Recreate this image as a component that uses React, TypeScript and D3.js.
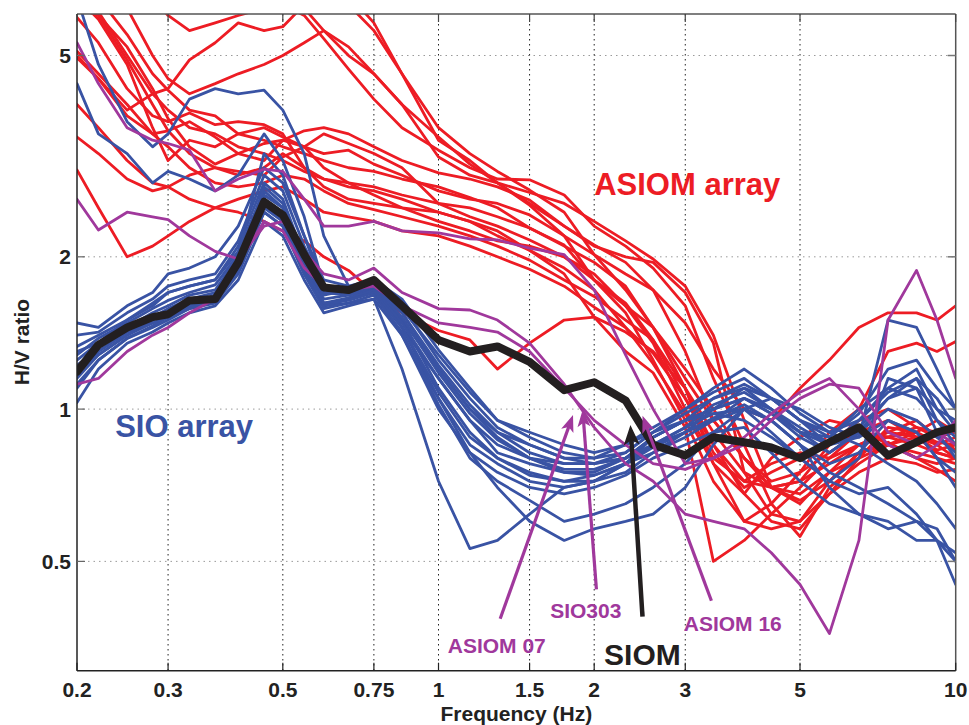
import React from "react";
import * as d3 from "d3";

// Frequency samples (Hz)
const FREQ = [0.2, 0.22, 0.25, 0.28, 0.3, 0.33, 0.37, 0.41, 0.46, 0.5, 0.55, 0.6, 0.67, 0.75, 0.85, 1.0, 1.15, 1.3, 1.5, 1.75, 2.0, 2.3, 2.6, 3.0, 3.4, 3.9, 4.4, 5.0, 5.7, 6.5, 7.4, 8.4, 9.2, 10];

// ASIOM array (red)
const ASIOM_ARRAY = [
  [5.0, 4.5, 3.9, 4.2, 4.3, 4.9, 5.3, 5.8, 5.6, 5.7, 6.3, 6.6, 6.3, 5.6, 4.6, 3.4, 3.1, 2.8, 2.55, 2.3, 2.1, 2.0, 1.95, 1.7, 1.35, 0.75, 0.62, 0.7, 0.8, 0.9, 0.95, 0.88, 0.85, 0.8],
  [7, 7, 7, 7, 7, 7, 7, 7, 7, 6.8, 6.2, 5.6, 5.0, 4.6, 4.0, 3.45, 3.05, 2.8, 2.68, 2.55, 2.35, 2.15, 1.98, 1.75, 1.4, 0.95, 0.7, 0.65, 0.75, 0.85, 0.88, 0.9, 0.86, 0.85],
  [5.95, 5.3, 4.3, 3.8, 3.7, 3.85, 3.65, 3.7, 3.65, 3.5, 3.0, 2.85, 2.75, 2.7, 2.6, 2.45, 2.35, 2.2, 2.06, 1.9, 1.72, 1.45, 1.29, 1.05, 0.85, 0.72, 0.7, 0.66, 0.72, 0.82, 0.86, 0.8, 0.76, 0.72],
  [7, 6.5, 5.5, 4.6, 4.27, 3.9, 3.8, 3.5, 3.4, 3.3, 3.2, 3.1, 3.0, 2.95, 2.85, 2.75, 2.62, 2.5, 2.28, 2.11, 1.8, 1.6, 1.45, 1.2, 1.0, 0.8, 0.7, 0.72, 0.85, 0.95, 1.0, 0.92, 0.88, 0.83],
  [6.5, 5.9, 4.8, 3.6, 3.1, 3.4, 3.3, 3.5, 3.6, 3.45, 3.3, 3.2, 3.25, 3.05, 2.9, 2.7, 2.6, 2.55, 2.42, 2.2, 2.02, 1.85, 1.72, 1.48, 1.2, 1.0, 0.95, 1.1, 1.25, 1.45, 1.55, 1.55, 1.5, 1.6],
  [6.2, 6.0, 5.2, 4.3, 3.75, 3.3, 3.05, 3.2, 3.35, 3.4, 3.55, 3.6, 3.5, 3.3, 3.1, 2.93, 2.85, 2.75, 2.59, 2.3, 2.11, 1.95, 1.72, 1.3, 0.95, 0.8, 0.72, 0.75, 0.9, 1.0, 1.3, 1.35, 1.3, 1.36],
  [3.45, 3.2, 2.85, 2.7, 2.75, 2.9, 3.0, 2.95, 2.9, 3.15, 3.3, 3.5, 3.35, 3.2, 3.0, 2.55, 2.4, 2.3, 2.16, 2.0, 1.8, 1.62, 1.37, 1.05, 0.82, 0.7, 0.75, 0.8, 0.85, 0.9, 0.88, 0.85, 0.82, 0.8],
  [2.97, 2.5, 2.0, 2.1, 2.2, 2.35, 2.5, 2.6, 2.7, 2.75, 2.6, 2.45, 2.4, 2.35, 2.25, 2.2, 2.1, 2.0, 1.89, 1.75, 1.59, 1.45, 1.23, 0.98, 0.78, 0.68, 0.8, 0.88, 0.95, 0.92, 0.85, 0.9, 0.95, 0.9],
  [5.1, 4.6, 4.0, 3.5, 3.3, 3.0, 2.8, 2.75, 2.8, 2.9, 2.85, 2.7, 2.55, 2.48, 2.4, 2.3, 2.2, 2.1, 1.97, 1.8, 1.67, 1.5, 1.37, 1.1, 0.78, 0.6, 0.58, 0.6, 0.68, 0.75, 0.8, 0.78, 0.75, 0.76],
  [6.5, 6.0, 4.9, 4.0, 3.55, 3.2, 3.0, 2.9, 3.0, 3.2, 3.0, 2.75, 2.6, 2.55, 2.5, 2.45, 2.35, 2.25, 2.06, 1.85, 1.52, 1.3, 1.18, 0.92, 0.5, 0.55, 0.62, 0.6, 0.72, 0.82, 0.85, 0.88, 0.83, 0.85],
  [4.0, 3.6, 3.1, 2.8, 2.75, 2.6, 2.5, 2.45, 2.35, 2.25, 2.15, 2.0, 1.88, 1.7, 1.55, 1.43, 1.37, 1.2, 1.35, 1.5, 1.52, 1.42, 1.3, 1.1, 0.9, 0.75, 0.7, 0.72, 0.78, 0.85, 0.9, 0.88, 0.82, 0.8],
  [6.3, 6.1, 5.0, 4.2, 3.9, 3.6, 3.5, 3.3, 3.2, 3.1, 2.95, 2.85, 2.8, 2.75, 2.65, 2.55, 2.5, 2.4, 2.28, 2.1, 1.95, 1.75, 1.45, 1.1, 0.85, 0.68, 0.6, 0.58, 0.68, 0.8, 0.92, 0.9, 0.85, 0.88],
  [7, 7, 7, 6.5, 6.0, 5.6, 5.8, 6.0, 6.2, 6.5, 7, 7, 6.6, 5.8, 4.6, 3.6, 3.2, 2.95, 2.71, 2.45, 2.02, 1.72, 1.45, 1.15, 0.95, 0.8, 0.7, 0.68, 0.75, 0.8, 0.85, 0.82, 0.8, 0.78],
  [7, 7, 6.2, 5.0, 4.5, 4.2, 4.4, 4.6, 4.8, 5.0, 5.3, 5.6, 5.2, 4.6, 4.0, 3.15, 2.9, 2.8, 2.53, 2.2, 1.8, 1.55, 1.25, 0.95, 0.72, 0.6, 0.65, 0.75, 0.82, 0.9, 0.88, 0.92, 0.9, 0.92],
  [4.95, 4.5, 3.8, 3.5, 3.55, 3.7, 3.45, 3.2, 3.1, 3.4, 3.3, 3.0, 2.8, 2.65, 2.5, 2.35, 2.25, 2.15, 2.1, 2.0, 1.85, 1.6, 1.35, 1.0, 0.8, 0.72, 0.78, 0.82, 0.8, 0.85, 0.9, 0.95, 0.88, 0.9],
  [7, 7, 7, 7, 7, 7, 7, 7, 6.8, 6.3, 6.0, 5.4, 4.7, 4.1, 3.6, 3.25, 3.0, 2.85, 2.84, 2.65, 2.3, 2.1, 1.9, 1.6, 1.15, 0.85, 0.65, 0.56, 0.7, 0.78, 0.85, 0.8, 0.78, 0.8],
];

// SIO array (blue)
const SIO_ARRAY = [
  [6.5, 4.8, 3.7, 3.3, 3.5, 4.1, 4.3, 4.2, 4.27, 3.9, 3.2, 2.2, 1.75, 1.75, 1.45, 1.15, 0.95, 0.85, 0.8, 0.78, 0.78, 0.8, 0.85, 0.9, 1.0, 1.1, 1.05, 0.95, 0.9, 0.95, 1.1, 1.2, 1.0, 0.9],
  [4.4, 3.5, 3.2, 2.8, 2.95, 2.85, 2.7, 2.9, 3.5, 3.1, 2.4, 1.75, 1.7, 1.72, 1.5, 1.2, 1.0, 0.88, 0.8, 0.75, 0.74, 0.78, 0.82, 0.88, 0.95, 1.05, 1.0, 0.9, 0.85, 0.92, 1.05, 1.15, 0.95, 0.85],
  [1.3, 1.35, 1.5, 1.6, 1.7, 1.75, 1.8, 2.1, 2.8, 2.6, 2.0, 1.6, 1.62, 1.65, 1.2, 0.72, 0.53, 0.55, 0.62, 0.7, 0.72, 0.78, 0.88, 0.95, 1.0, 1.05, 0.98, 0.88, 0.82, 0.9, 1.0, 0.95, 0.88, 0.82],
  [1.2, 1.3, 1.42, 1.48, 1.52, 1.6, 1.65, 1.95, 2.5, 2.35, 1.9, 1.6, 1.65, 1.7, 1.4, 1.05, 0.82, 0.7, 0.6, 0.55, 0.58, 0.6, 0.62, 0.7, 0.85, 1.0, 1.05, 1.0, 0.92, 0.88, 0.95, 0.9, 0.8, 0.75],
  [1.48, 1.45, 1.6, 1.7, 1.85, 1.9, 2.0, 2.3, 3.0, 2.8, 2.2, 1.8, 1.75, 1.8, 1.65, 1.31, 1.1, 0.95, 0.88, 0.82, 0.8, 0.85, 0.92, 1.0, 1.1, 1.2, 1.1, 0.98, 0.9, 0.85, 0.78, 0.72, 0.65, 0.58],
  [1.33, 1.4, 1.5, 1.62, 1.7, 1.75, 1.8, 2.05, 2.7, 2.5, 2.0, 1.72, 1.7, 1.75, 1.55, 1.2, 1.0, 0.9, 0.85, 0.8, 0.78, 0.8, 0.88, 0.95, 1.05, 1.12, 1.05, 0.95, 0.85, 0.88, 1.5, 1.45, 1.2, 1.0],
  [1.18, 1.3, 1.42, 1.5, 1.55, 1.6, 1.65, 1.9, 2.6, 2.45, 1.95, 1.65, 1.68, 1.72, 1.5, 1.1, 0.9, 0.8, 0.75, 0.72, 0.72, 0.78, 0.85, 0.92, 0.98, 1.0, 0.95, 0.85, 0.75, 0.7, 0.65, 0.6, 0.55, 0.45],
  [1.1, 1.25, 1.38, 1.45, 1.5, 1.58, 1.62, 1.85, 2.45, 2.3, 1.85, 1.6, 1.65, 1.7, 1.45, 1.05, 0.85, 0.78, 0.72, 0.7, 0.72, 0.75, 0.82, 0.9, 0.95, 1.0, 0.9, 0.8, 0.72, 0.8, 1.15, 1.1, 0.9, 0.8],
  [1.03, 1.2, 1.35, 1.42, 1.48, 1.55, 1.6, 1.8, 2.35, 2.2, 1.8, 1.55, 1.6, 1.65, 1.4, 1.0, 0.82, 0.75, 0.7, 0.68, 0.7, 0.74, 0.8, 0.85, 0.9, 0.92, 0.82, 0.72, 0.65, 0.62, 0.58, 0.6, 0.58, 0.5],
  [1.25, 1.35, 1.45, 1.55, 1.6, 1.68, 1.72, 2.0, 2.65, 2.5, 1.95, 1.68, 1.72, 1.78, 1.6, 1.25, 1.05, 0.92, 0.85, 0.8, 0.8, 0.82, 0.9, 0.98, 1.05, 1.1, 1.0, 0.9, 0.82, 0.9, 1.05, 1.1, 1.0, 0.95],
  [1.15, 1.28, 1.4, 1.5, 1.55, 1.62, 1.68, 1.92, 2.55, 2.4, 1.9, 1.62, 1.66, 1.72, 1.48, 1.15, 0.95, 0.82, 0.78, 0.75, 0.75, 0.8, 0.88, 0.95, 1.0, 1.05, 0.98, 0.9, 0.88, 1.0, 1.1, 1.05, 0.95, 0.88],
  [1.4, 1.42, 1.55, 1.65, 1.75, 1.8, 1.85, 2.15, 2.9, 2.7, 2.1, 1.75, 1.72, 1.76, 1.58, 1.28, 1.08, 0.95, 0.9, 0.85, 0.82, 0.85, 0.9, 0.95, 0.98, 0.95, 0.88, 0.8, 0.72, 0.68, 0.7, 0.62, 0.55, 0.5],
  [1.22, 1.32, 1.45, 1.52, 1.58, 1.65, 1.7, 1.95, 2.75, 2.55, 2.0, 1.7, 1.68, 1.74, 1.52, 1.18, 0.98, 0.87, 0.8, 0.76, 0.76, 0.8, 0.85, 0.92, 1.02, 1.08, 1.0, 0.92, 0.85, 0.95, 1.08, 1.15, 1.05, 0.92],
  [1.12, 1.25, 1.38, 1.46, 1.52, 1.6, 1.65, 1.88, 2.5, 2.38, 1.88, 1.62, 1.64, 1.7, 1.45, 1.08, 0.88, 0.8, 0.74, 0.72, 0.74, 0.78, 0.84, 0.9, 0.96, 1.02, 0.95, 0.85, 0.78, 0.82, 0.95, 0.9, 0.8, 0.7],
  [1.28, 1.38, 1.48, 1.58, 1.64, 1.7, 1.76, 2.02, 3.2, 2.9, 2.2, 1.72, 1.7, 1.74, 1.55, 1.22, 1.02, 0.9, 0.82, 0.78, 0.78, 0.82, 0.9, 1.0, 1.08, 1.15, 1.05, 0.95, 0.88, 0.98, 1.2, 1.25, 1.1, 1.0],
  [1.18, 1.28, 1.4, 1.48, 1.52, 1.58, 1.64, 1.9, 2.45, 2.3, 1.85, 1.58, 1.62, 1.68, 1.42, 1.02, 0.8, 0.72, 0.66, 0.6, 0.62, 0.65, 0.7, 0.78, 0.9, 1.0, 0.95, 0.85, 0.7, 0.62, 0.6, 0.55, 0.55, 0.52],
];

// Highlighted stations (purple)
const ASIOM_16 = [5.3, 4.4, 3.6, 3.4, 3.35, 3.25, 2.7, 2.85, 2.98, 2.95, 2.6, 2.3, 2.3, 2.35, 2.25, 2.23, 2.17, 2.16, 2.08, 2.02, 1.72, 1.28, 1.0, 0.78, 0.8, 0.85, 0.95, 1.05, 1.12, 1.1, 0.9, 0.85, 0.9, 0.85];
const ASIOM_07 = [2.6, 2.26, 2.45, 2.4, 2.37, 2.2, 2.05, 1.98, 2.3, 2.35, 2.05, 1.85, 1.8, 1.9, 1.7, 1.58, 1.57, 1.5, 1.35, 1.12, 0.92, 0.78, 0.72, 0.62, 0.6, 0.58, 0.52, 0.45, 0.36, 0.55, 1.5, 1.88, 1.5, 1.15];
const SIO303 = [1.12, 1.15, 1.3, 1.4, 1.45, 1.55, 1.65, 1.95, 2.35, 2.25, 1.9, 1.75, 1.72, 1.75, 1.6, 1.48, 1.45, 1.42, 1.3, 1.1, 0.95, 0.85, 0.78, 0.76, 0.8, 0.88, 0.98, 1.08, 1.15, 1.0, 0.85, 0.8, 0.85, 0.95];

// Reference station (black)
const SIOM = [1.185, 1.34, 1.45, 1.52, 1.54, 1.64, 1.65, 1.95, 2.57, 2.42, 2.02, 1.74, 1.72, 1.8, 1.6, 1.37, 1.3, 1.33, 1.24, 1.09, 1.13, 1.04, 0.85, 0.81, 0.88, 0.86, 0.84, 0.8, 0.86, 0.92, 0.81, 0.86, 0.9, 0.92];

const X_TICKS = [0.2, 0.3, 0.5, 0.75, 1, 1.5, 2, 3, 5, 10];
const X_TICK_LABELS = ["0.2", "0.3", "0.5", "0.75", "1", "1.5", "2", "3", "5", "10"];
const Y_TICKS = [0.5, 1, 2, 5];
const Y_TICK_LABELS = ["0.5", "1", "2", "5"];

// Annotation arrows: label, tail (f, v), head (f, v)
const ARROW_LABELS = ["ASIOM 07", "SIO303", "SIOM", "ASIOM 16"];
const ARROW_FROM = [[1.316, 0.385], [2.02, 0.44], [2.48, 0.389], [3.37, 0.418]];
const ARROW_TO = [[1.82, 0.974], [1.9, 0.997], [2.35, 0.93], [2.48, 0.97]];

const W = 969, H = 725;
const ML = 77, MR = 955.7, MT = 14, MB = 670.7;

const RED = "#ed1c24", BLUE = "#3953a4", PURPLE = "#a0389c", BLACK = "#231f20";
const FONT = "'Liberation Sans', Arial, Helvetica, sans-serif";

export default function App() {
  const x = d3.scaleLog().domain([0.2, 10]).range([ML, MR]);
  const y = d3.scaleLog().domain([0.304, 6.04]).range([MB, MT]);
  const line = d3.line<number>().x((_, i) => x(FREQ[i])).y((v) => y(v));

  const arrowHead = (fx: number, fy: number, tx: number, ty: number, len: number, wid: number) => {
    const ang = Math.atan2(ty - fy, tx - fx);
    const c = Math.cos(ang), s = Math.sin(ang);
    const bx = tx - len * c, by = ty - len * s;
    const nx = -s, ny = c;
    const ix = tx - len * 0.75 * c, iy = ty - len * 0.75 * s;
    return `M${tx},${ty} L${bx + nx * wid / 2},${by + ny * wid / 2} L${ix},${iy} L${bx - nx * wid / 2},${by - ny * wid / 2} Z`;
  };

  return (
    <svg width={W} height={H} style={{ position: "absolute", left: 0, top: 0, background: "#fff" }} fontFamily={FONT}>
      <defs>
        <clipPath id="plot"><rect x={ML} y={MT} width={MR - ML} height={MB - MT} /></clipPath>
      </defs>
      {Y_TICKS.map((t) => (
        <line key={"gy" + t} x1={ML} x2={MR} y1={y(t)} y2={y(t)} stroke="#9a9a9a" strokeWidth={1} strokeDasharray="1.5,4" />
      ))}
      {X_TICKS.slice(1, -1).map((t) => (
        <line key={"gx" + t} x1={x(t)} x2={x(t)} y1={MT} y2={MB} stroke="#222" strokeWidth={1} strokeDasharray="1.5,3.5" />
      ))}
      <g clipPath="url(#plot)" fill="none" strokeLinejoin="round" strokeLinecap="round">
        {ASIOM_ARRAY.map((s, i) => (
          <path key={"r" + i} d={line(s) || ""} stroke={RED} strokeWidth={2.8} />
        ))}
        {SIO_ARRAY.map((s, i) => (
          <path key={"b" + i} d={line(s) || ""} stroke={BLUE} strokeWidth={2.8} />
        ))}
        {[ASIOM_16, ASIOM_07, SIO303].map((s, i) => (
          <path key={"p" + i} d={line(s) || ""} stroke={PURPLE} strokeWidth={2.8} />
        ))}
        <path d={line(SIOM) || ""} stroke={BLACK} strokeWidth={8} />
      </g>
      {ARROW_LABELS.map((lab, i) => {
        const fx = x(ARROW_FROM[i][0]), fy = y(ARROW_FROM[i][1]);
        const tx = x(ARROW_TO[i][0]), ty = y(ARROW_TO[i][1]);
        const isBlack = lab === "SIOM";
        const col = isBlack ? BLACK : PURPLE;
        const len = isBlack ? 20 : 17;
        const ang = Math.atan2(ty - fy, tx - fx);
        const ex = tx - len * 0.7 * Math.cos(ang), ey = ty - len * 0.7 * Math.sin(ang);
        return (
          <g key={"a" + i}>
            <line x1={fx} y1={fy} x2={ex} y2={ey} stroke={col} strokeWidth={isBlack ? 4.5 : 3.2} />
            <path d={arrowHead(fx, fy, tx, ty, len, isBlack ? 16 : 13)} fill={col} />
          </g>
        );
      })}
      <line x1={ML} x2={MR} y1={MT} y2={MT} stroke="#555" strokeWidth={1.5} />
      <line x1={MR} x2={MR} y1={MT} y2={MB} stroke="#555" strokeWidth={1.5} />
      <line x1={ML} x2={ML} y1={MT} y2={MB} stroke="#222" strokeWidth={1.5} />
      <line x1={ML} x2={MR} y1={MB} y2={MB} stroke="#222" strokeWidth={1.5} />
      {X_TICKS.map((t) => (
        <g key={"xt" + t}>
          <line x1={x(t)} x2={x(t)} y1={MB} y2={MB - 8} stroke="#222" strokeWidth={1.2} />
          <line x1={x(t)} x2={x(t)} y1={MT} y2={MT + 8} stroke="#444" strokeWidth={1.2} />
        </g>
      ))}
      {Y_TICKS.map((t) => (
        <g key={"yt" + t}>
          <line x1={ML} x2={ML + 8} y1={y(t)} y2={y(t)} stroke="#666" strokeWidth={1.2} />
          <line x1={MR} x2={MR - 8} y1={y(t)} y2={y(t)} stroke="#777" strokeWidth={1.5} />
        </g>
      ))}
      {X_TICKS.map((t, i) => (
        <text key={"xl" + t} x={x(t)} y={697} textAnchor="middle" fontSize={21} fontWeight="bold" fill="#222">{X_TICK_LABELS[i]}</text>
      ))}
      {Y_TICKS.map((t, i) => (
        <text key={"yl" + t} x={71} y={y(t) + 7.5} textAnchor="end" fontSize={21} fontWeight="bold" fill="#222">{Y_TICK_LABELS[i]}</text>
      ))}
      <text x={(ML + MR) / 2} y={721} textAnchor="middle" fontSize={21} fontWeight="bold" fill="#222">Frequency (Hz)</text>
      <text transform="translate(29,342) rotate(-90)" textAnchor="middle" fontSize={21} fontWeight="bold" fill="#222">H/V ratio</text>
      <text x={x(2.0)} y={y(2.65)} fontSize={31} fontWeight="bold" fill={RED}>ASIOM array</text>
      <text x={x(0.237)} y={y(0.882)} fontSize={31} fontWeight="bold" fill={BLUE}>SIO array</text>
      <text x={x(2.09)} y={y(0.3125)} fontSize={30} fontWeight="bold" fill={BLACK}>SIOM</text>
      <text x={x(1.042)} y={y(0.33)} fontSize={21} fontWeight="bold" fill={PURPLE}>ASIOM 07</text>
      <text x={x(1.644)} y={y(0.387)} fontSize={21} fontWeight="bold" fill={PURPLE}>SIO303</text>
      <text x={x(2.98)} y={y(0.3646)} fontSize={21} fontWeight="bold" fill={PURPLE}>ASIOM 16</text>
    </svg>
  );
}
